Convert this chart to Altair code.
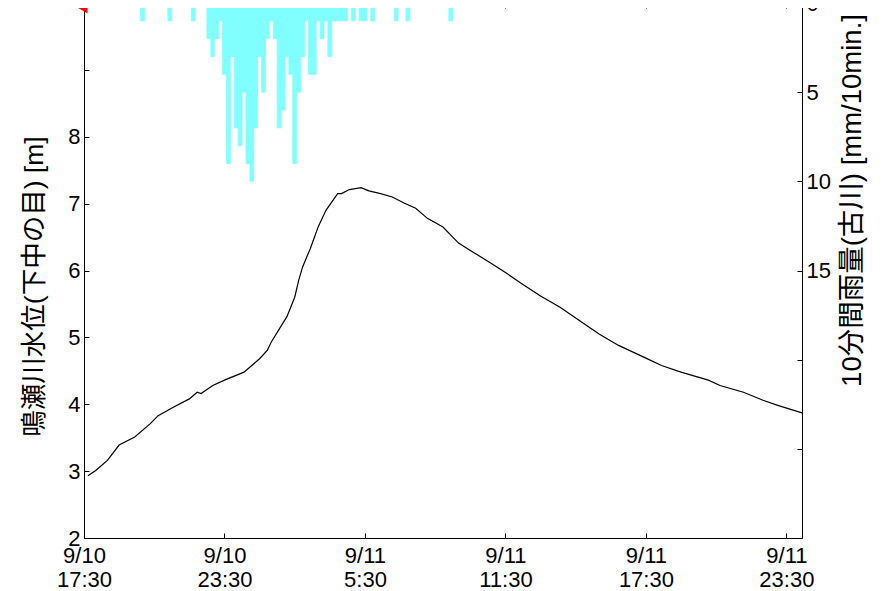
import altair as alt
import pandas as pd

# ---------------- data ----------------
level_time = [
    "2015-09-10T17:40:00", "2015-09-10T18:00:00", "2015-09-10T18:30:00", "2015-09-10T19:00:00",
    "2015-09-10T19:40:00", "2015-09-10T20:20:00", "2015-09-10T20:40:00", "2015-09-10T21:20:00",
    "2015-09-10T22:00:00", "2015-09-10T22:20:00", "2015-09-10T22:30:00", "2015-09-10T23:00:00",
    "2015-09-10T23:30:00", "2015-09-11T00:20:00", "2015-09-11T01:00:00", "2015-09-11T01:20:00",
    "2015-09-11T01:30:00", "2015-09-11T02:10:00", "2015-09-11T02:30:00", "2015-09-11T02:40:00",
    "2015-09-11T02:50:00", "2015-09-11T03:10:00", "2015-09-11T03:30:00", "2015-09-11T03:50:00",
    "2015-09-11T04:20:00", "2015-09-11T04:30:00", "2015-09-11T04:50:00", "2015-09-11T05:20:00",
    "2015-09-11T05:40:00", "2015-09-11T06:10:00", "2015-09-11T06:40:00", "2015-09-11T07:10:00",
    "2015-09-11T07:40:00", "2015-09-11T08:10:00", "2015-09-11T08:50:00", "2015-09-11T09:10:00",
    "2015-09-11T09:30:00", "2015-09-11T10:00:00", "2015-09-11T10:50:00", "2015-09-11T11:30:00",
    "2015-09-11T12:10:00", "2015-09-11T13:00:00", "2015-09-11T13:50:00", "2015-09-11T14:30:00",
    "2015-09-11T15:30:00", "2015-09-11T16:20:00", "2015-09-11T17:30:00", "2015-09-11T18:10:00",
    "2015-09-11T19:00:00", "2015-09-11T20:10:00", "2015-09-11T20:40:00", "2015-09-11T21:40:00",
    "2015-09-11T22:30:00", "2015-09-11T23:10:00", "2015-09-12T00:10:00",
]
level_m = [
    2.93, 3.01, 3.16, 3.39,
    3.51, 3.71, 3.83, 3.96,
    4.08, 4.18, 4.16, 4.28,
    4.36, 4.48, 4.68, 4.81,
    4.93, 5.31, 5.60, 5.85,
    6.05, 6.33, 6.65, 6.90,
    7.15, 7.15, 7.21, 7.24,
    7.19, 7.15, 7.10, 7.01,
    6.93, 6.78, 6.65, 6.53,
    6.41, 6.30, 6.12, 5.97,
    5.81, 5.62, 5.45, 5.29,
    5.05, 4.88, 4.69, 4.58,
    4.48, 4.36, 4.28, 4.18,
    4.06, 3.98, 3.87,
]

rain_time = [
    "2015-09-10T20:00:00", "2015-09-10T21:10:00", "2015-09-10T22:10:00",
    "2015-09-10T22:50:00", "2015-09-10T23:00:00", "2015-09-10T23:10:00", "2015-09-10T23:20:00",
    "2015-09-10T23:30:00", "2015-09-10T23:40:00", "2015-09-10T23:50:00", "2015-09-11T00:00:00",
    "2015-09-11T00:10:00", "2015-09-11T00:20:00", "2015-09-11T00:30:00", "2015-09-11T00:40:00",
    "2015-09-11T00:50:00", "2015-09-11T01:00:00", "2015-09-11T01:10:00", "2015-09-11T01:20:00",
    "2015-09-11T01:30:00", "2015-09-11T01:40:00", "2015-09-11T01:50:00", "2015-09-11T02:00:00",
    "2015-09-11T02:10:00", "2015-09-11T02:20:00", "2015-09-11T02:30:00", "2015-09-11T02:40:00",
    "2015-09-11T02:50:00", "2015-09-11T03:00:00", "2015-09-11T03:10:00", "2015-09-11T03:20:00",
    "2015-09-11T03:30:00", "2015-09-11T03:40:00", "2015-09-11T03:50:00", "2015-09-11T04:00:00",
    "2015-09-11T04:10:00", "2015-09-11T04:20:00", "2015-09-11T04:30:00", "2015-09-11T04:40:00",
    "2015-09-11T05:00:00", "2015-09-11T05:20:00", "2015-09-11T05:30:00", "2015-09-11T05:50:00",
    "2015-09-11T06:50:00", "2015-09-11T07:20:00", "2015-09-11T09:10:00",
]
rain_mm = [
    1, 1, 1,
    2, 3, 2, 1,
    4, 9, 3, 7,
    8, 5, 9, 10,
    7, 3, 5, 2,
    1, 2, 7, 6,
    3, 4, 9, 5,
    3, 1, 4, 4,
    1, 2, 1, 3,
    1, 1, 1, 1,
    1, 1, 1, 1,
    1, 1, 1,
]

level_ticks = [2, 3, 4, 5, 6, 7, 8, 9, 10]
rain_ticks = [0, 5, 10, 15, 20, 25, 30]
x_tick_times = [
    "2015-09-10T17:30:00", "2015-09-10T23:30:00", "2015-09-11T05:30:00",
    "2015-09-11T11:30:00", "2015-09-11T17:30:00", "2015-09-11T23:30:00",
]
marker_time = ["2015-09-10T17:22:00"]
marker_level = [9.96]

LEVEL_TITLE = "鳴瀬川水位(下中の目) [m]"
RAIN_TITLE = "10分間雨量(古川) [mm/10min.]"

# ---------------- layout / style ----------------
W, H = 718, 535
TICK = 5
LATIN = "Liberation Sans, Arial, sans-serif"
TITLE_FONT = "Liberation Sans, Noto Sans CJK JP, sans-serif"
LABEL_SIZE = 22
LEVEL_TITLE_SIZE = 26.5
RAIN_TITLE_SIZE = 27.5
CYAN = "#80ffff"


def dt(s):
    t = pd.Timestamp(s)
    return alt.DateTime(year=t.year, month=t.month, date=t.day, hours=t.hour, minutes=t.minute)


x_domain = [dt("2015-09-10T17:30:00"), dt("2015-09-12T00:10:00")]
x_values = [dt(s) for s in x_tick_times]


def x_scale():
    return alt.Scale(domain=x_domain)


def level_scale():
    return alt.Scale(domain=[2, 10], nice=False, zero=False)


rain_scale = alt.Scale(domain=[0, 30], nice=False, reverse=True)

df_level = pd.DataFrame({"t": level_time, "level": level_m})

rt = pd.to_datetime(pd.Series(rain_time))
df_rain = pd.DataFrame({
    "t0": (rt - pd.Timedelta(minutes=5)).dt.strftime("%Y-%m-%dT%H:%M:%S"),
    "t1": (rt + pd.Timedelta(minutes=5)).dt.strftime("%Y-%m-%dT%H:%M:%S"),
    "rain": rain_mm,
})

common_axis = dict(
    domain=False, grid=False, tickSize=TICK, offset=-TICK, tickColor="black",
    tickWidth=1, labelColor="black", labelFontSize=LABEL_SIZE, labelFont=LATIN,
)

x_axis_bottom = alt.Axis(
    orient="bottom", values=x_values,
    labelExpr="[timeFormat(datum.value, '%-m/%d'), timeFormat(datum.value, '%-H:%M')]",
    labelPadding=7, labelLineHeight=24, labelAngle=0, labelBaseline="top",
    title=None, labelFlush=False, labelOverlap=False, **common_axis,
)
x_axis_top = alt.Axis(
    orient="top", values=x_values, labels=False, title=None, **common_axis,
)

# ---------------- rain (right axis) ----------------
bars = alt.Chart(df_rain).mark_rect(color=CYAN, stroke=CYAN, strokeWidth=0.8).encode(
    x=alt.X("t0:T", scale=x_scale(), axis=x_axis_bottom),
    x2="t1:T",
    y=alt.Y("rain:Q", scale=rain_scale, axis=alt.Axis(
        orient="right", values=rain_ticks,
        labelExpr="datum.value <= 15 ? datum.label : ''",
        labelPadding=4,
        title=RAIN_TITLE, titleFont=TITLE_FONT, titleFontSize=RAIN_TITLE_SIZE,
        titleFontWeight="normal", titleColor="black", titleAngle=270,
        titleX=55, titleY=197, titleAlign="center", titleBaseline="middle",
        **common_axis,
    )),
    y2=alt.datum(0),
)

# ---------------- water level (left axis) ----------------
line = alt.Chart(df_level).mark_line(color="black", strokeWidth=1.2).encode(
    x=alt.X("t:T", scale=x_scale(), axis=x_axis_top),
    y=alt.Y("level:Q", scale=level_scale(), axis=alt.Axis(
        orient="left", values=level_ticks,
        labelExpr="datum.value <= 8 ? datum.label : ''",
        labelPadding=4,
        title=LEVEL_TITLE, titleFont=TITLE_FONT, titleFontSize=LEVEL_TITLE_SIZE,
        titleFontWeight="normal", titleColor="black", titleAngle=270,
        titleX=-55, titleY=283, titleAlign="center", titleBaseline="middle",
        **common_axis,
    )),
)

marker = alt.Chart(pd.DataFrame({"t": marker_time, "level": marker_level})).mark_point(
    shape="triangle-left", filled=True, color="red", opacity=1, size=240
).encode(
    x=alt.X("t:T", scale=x_scale(), axis=None),
    y=alt.Y("level:Q", scale=level_scale(), axis=None),
)

chart = alt.layer(bars, line, marker).resolve_scale(
    y="independent"
).resolve_axis(
    x="independent", y="independent"
).properties(
    width=W, height=H,
    autosize=alt.AutoSizeParams(type="none"),
    padding={"left": 76, "top": -5, "right": 70, "bottom": 52},
).configure_view(stroke="black", strokeWidth=1)

chart.save("out.html", embed_options={"renderer": "svg", "actions": False})
